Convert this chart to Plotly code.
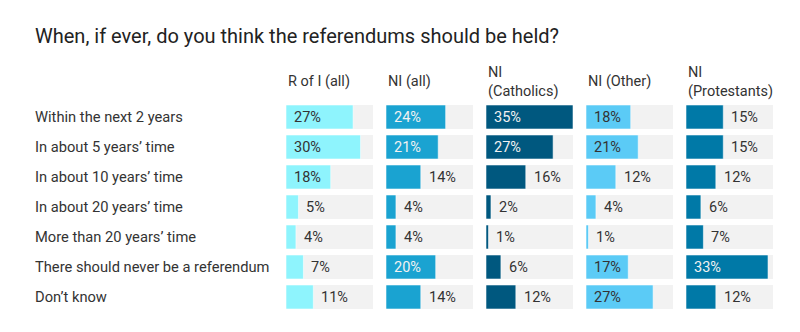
import plotly.graph_objects as go
from plotly.subplots import make_subplots

categories = [
    "Within the next 2 years",
    "In about 5 years’ time",
    "In about 10 years’ time",
    "In about 20 years’ time",
    "More than 20 years’ time",
    "There should never be a referendum",
    "Don’t know",
]
groups = ["R of I (all)", "NI (all)", "NI<br>(Catholics)", "NI (Other)", "NI<br>(Protestants)"]
r_of_i_all = [27, 30, 18, 5, 4, 7, 11]
ni_all = [24, 21, 14, 4, 4, 20, 14]
ni_catholics = [35, 27, 16, 2, 1, 6, 12]
ni_other = [18, 21, 12, 4, 1, 17, 27]
ni_protestants = [15, 15, 12, 6, 7, 33, 12]

series = [r_of_i_all, ni_all, ni_catholics, ni_other, ni_protestants]
colors = ["#8ef4fd", "#1aa3d1", "#00587f", "#5bcbf6", "#0079a7"]
label_colors = ["#333333", "#f2f2f2", "#f2f2f2", "#333333", "#f2f2f2"]
scale_max = 35
inside_min = 17

W, H = 800, 332
fig = make_subplots(rows=1, cols=5, shared_yaxes=True)

ytop, ybot = 102, 312
for i, (vals, col) in enumerate(zip(series, colors)):
    c = i + 1
    fig.add_trace(go.Bar(
        y=categories, x=[scale_max] * len(categories), orientation="h",
        marker=dict(color="#f2f2f2", line=dict(width=0)),
        hoverinfo="skip", showlegend=False), row=1, col=c)
    fig.add_trace(go.Bar(
        y=categories, x=vals, orientation="h",
        marker=dict(color=col, line=dict(width=1, color="rgba(255,255,255,0.55)")),
        showlegend=False), row=1, col=c)
    left = 286 + 100 * i
    xa = "xaxis" if c == 1 else f"xaxis{c}"
    ya = "yaxis" if c == 1 else f"yaxis{c}"
    fig.layout[xa].update(domain=[left / W, (left + 87) / W], range=[0, scale_max],
                          visible=False, fixedrange=True)
    fig.layout[ya].update(domain=[1 - ybot / H, 1 - ytop / H], visible=False,
                          autorange=False, range=[len(categories) - 0.5, -0.5],
                          categoryorder="array", categoryarray=categories)
    xref = "x" if c == 1 else f"x{c}"
    yref = "y" if c == 1 else f"y{c}"
    for cat, v in zip(categories, vals):
        inside = v >= inside_min
        fig.add_annotation(
            x=0 if inside else v, y=cat, xref=xref, yref=yref,
            text=f"{v}%", showarrow=False, xanchor="left", yanchor="middle",
            xshift=6, font=dict(size=14.5, color=label_colors[i] if inside else "#333333"))
    fig.add_annotation(
        x=left / W, y=1 - 82 / H, xref="paper", yref="paper", text=groups[i],
        showarrow=False, xanchor="left", yanchor="middle", align="left",
        font=dict(size=14.5, color="#333333"))

for cat in categories:
    fig.add_annotation(x=33 / W, y=cat, xref="paper", yref="y", text=cat,
                       showarrow=False, xanchor="left", yanchor="middle",
                       font=dict(size=14.7, color="#333333"))

fig.add_annotation(x=33 / W, y=1 - 36 / H, xref="paper", yref="paper",
                   text="When, if ever, do you think the referendums should be held?",
                   showarrow=False, xanchor="left", yanchor="middle",
                   font=dict(size=20, color="#222222"))

fig.update_layout(
    width=W, height=H, margin=dict(l=0, r=0, t=0, b=0),
    barmode="overlay", bargap=0.2,
    plot_bgcolor="white", paper_bgcolor="white",
    font=dict(family="Roboto, sans-serif"),
)
fig.write_html("out.html")
